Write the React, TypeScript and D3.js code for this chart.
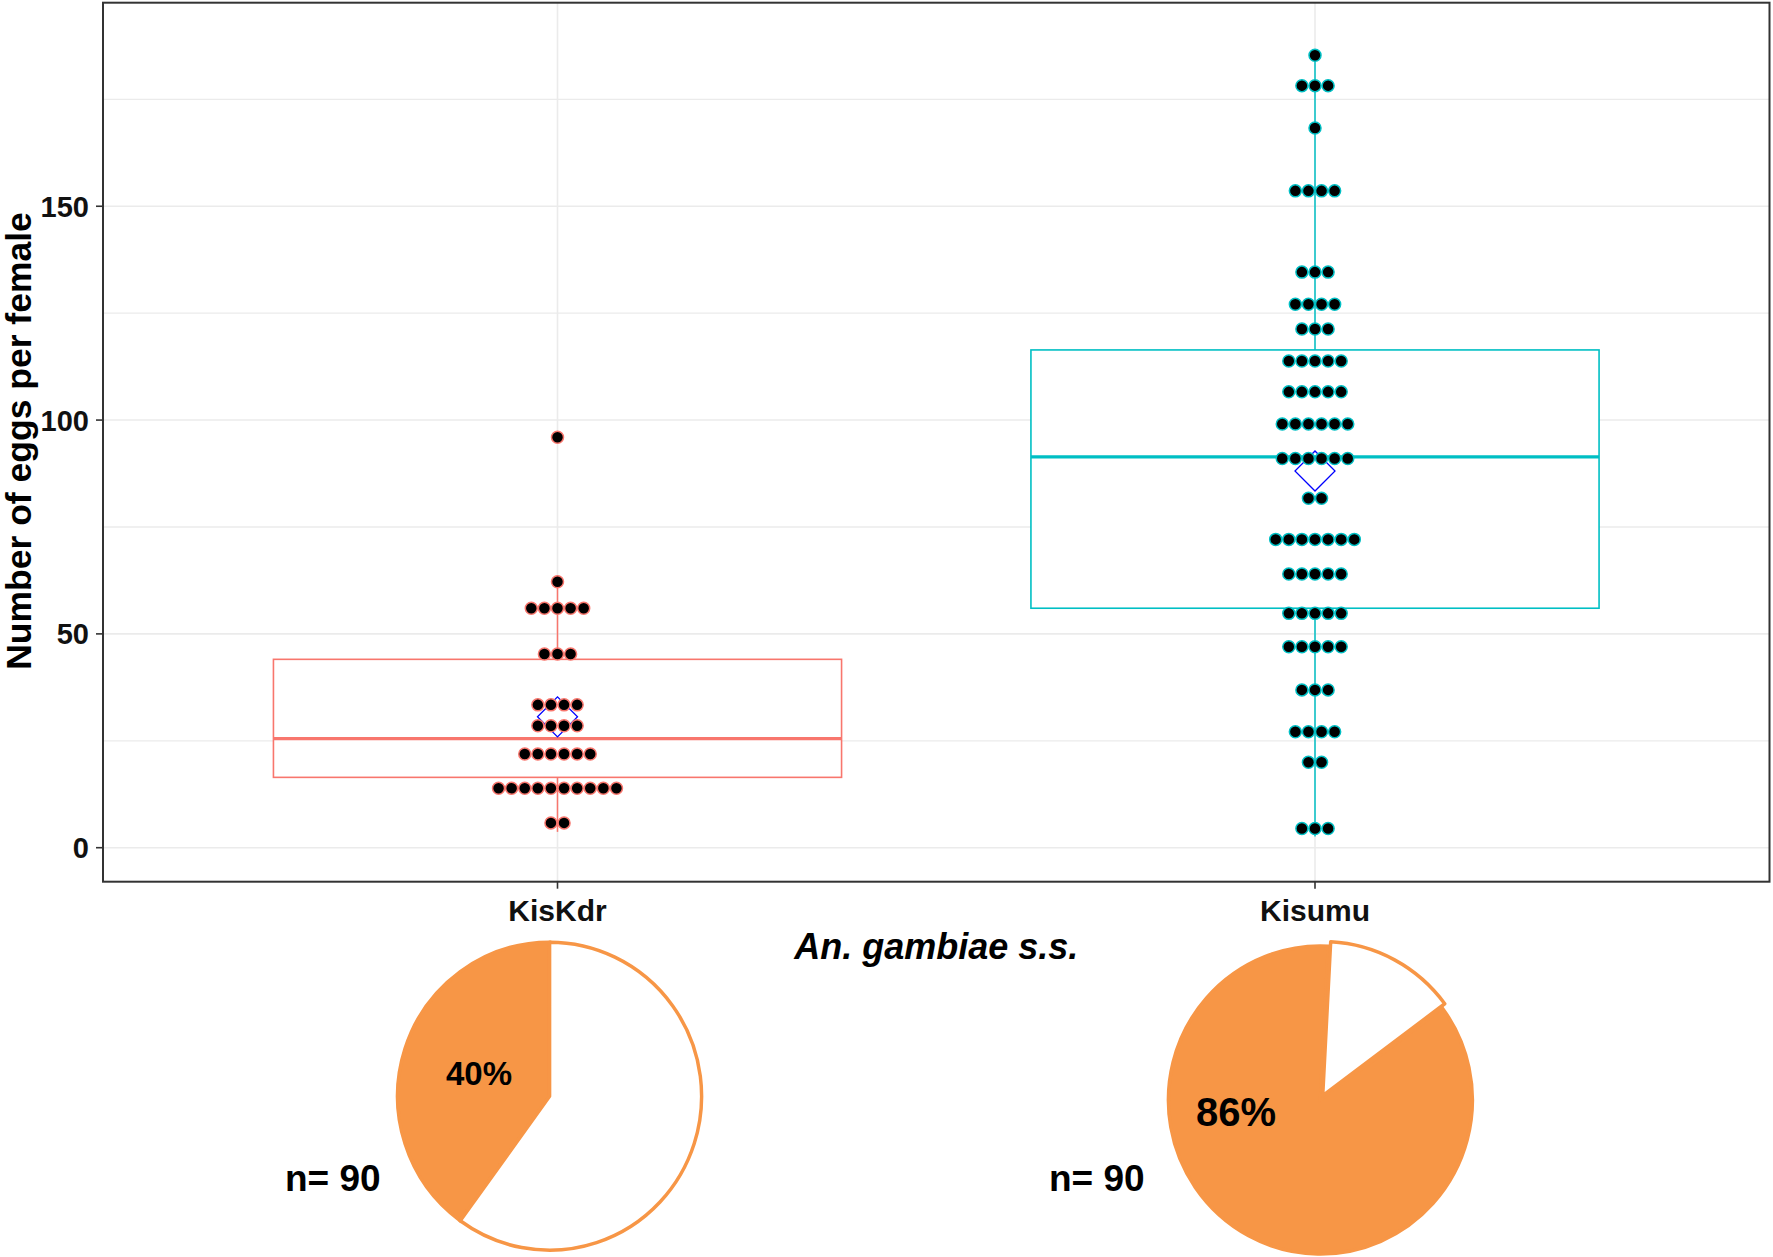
import React from 'react';
import * as d3 from 'd3';

// ---------- data ----------
const categories = ['KisKdr', 'Kisumu'];
const groupColors = ['#F8766D', '#00BFC4'];
const yMajorTicks = [0, 50, 100, 150];
const yMinorTicks = [25, 75, 125, 175];

// dot-plot bins (bin centre value) and number of dots stacked in each bin
const kisKdrBins = [96.0, 62.2, 56.0, 45.3, 33.4, 28.5, 21.9, 13.9, 5.8];
const kisKdrCounts = [1, 1, 5, 3, 4, 4, 6, 10, 2];
const kisumuBins = [185.3, 178.2, 168.3, 153.6, 134.6, 127.1, 121.3, 113.8, 106.6, 99.1, 91.0, 81.7, 72.1, 64.0, 54.8, 47.0, 36.9, 27.1, 20.0, 4.5];
const kisumuCounts = [1, 3, 1, 4, 3, 4, 3, 5, 5, 6, 6, 2, 7, 5, 5, 5, 3, 4, 2, 3];

// boxplot statistics per category
const boxQ1 = [16.45, 56.0];
const boxMedian = [25.5, 91.4];
const boxQ3 = [44.05, 116.4];
const whiskerLow = [3.7, 2.6];
const whiskerHigh = [62.2, 185.3];
const groupMeans = [30.6, 88.1];

// pies: % of females laying eggs
const layingPercent = [40, 86];
const pieLabels = ['40%', '86%'];
const sampleSizes = [90, 90];

const xTitle = 'An. gambiae s.s.';
const yTitle = 'Number of eggs per female';

const ORANGE = '#F79646';
const FONT = "'Liberation Sans', Arial, Helvetica, sans-serif";

export default function App() {
  const W = 1773;
  const H = 1257;
  const panel = { left: 103, right: 1769.5, top: 2.7, bottom: 881.7 };

  const y = d3.scaleLinear().domain([-7.95, 197.6]).range([panel.bottom, panel.top]);
  const x = d3
    .scaleBand<string>()
    .domain(categories)
    .range([panel.left, panel.right])
    .paddingInner(0)
    .paddingOuter(0.1);
  const cx = (c: string) => (x(c) as number) + x.bandwidth() / 2;
  const boxW = x.bandwidth() * 0.75;
  const dotStep = 13.1;

  const binsByGroup = [kisKdrBins, kisumuBins];
  const countsByGroup = [kisKdrCounts, kisumuCounts];

  const diamond = d3.symbol().type(d3.symbolSquare).size(800)();

  const arc = d3.arc<d3.PieArcDatum<number>>().innerRadius(0).outerRadius(154);
  const pieCenters = [
    { x: 549.6, y: 1096.2, explode: 0, rot: 0 },
    { x: 1320.4, y: 1100, explode: 5, rot: 3 },
  ];
  const pieLabelPos = [
    { x: 479, y: 1085, size: 33 },
    { x: 1236, y: 1126, size: 40 },
  ];
  const nLabelPos = [
    { x: 285, y: 1191 },
    { x: 1049, y: 1191 },
  ];

  return (
    <svg
      width={W}
      height={H}
      viewBox={`0 0 ${W} ${H}`}
      style={{ position: 'absolute', left: 0, top: 0, display: 'block', background: '#fff' }}
    >
      <rect x={0} y={0} width={W} height={H} fill="#fff" />

      {/* grid */}
      <g>
        {yMinorTicks.map((t) => (
          <line key={'mi' + t} x1={panel.left} x2={panel.right} y1={y(t)} y2={y(t)} stroke="#EBEBEB" strokeWidth={1.3} />
        ))}
        {yMajorTicks.map((t) => (
          <line key={'ma' + t} x1={panel.left} x2={panel.right} y1={y(t)} y2={y(t)} stroke="#EBEBEB" strokeWidth={1.6} />
        ))}
        {categories.map((c) => (
          <line key={'vx' + c} x1={cx(c)} x2={cx(c)} y1={panel.top} y2={panel.bottom} stroke="#EBEBEB" strokeWidth={1.6} />
        ))}
      </g>

      {/* boxplots */}
      {categories.map((c, i) => {
        const col = groupColors[i];
        const xc = cx(c);
        return (
          <g key={'box' + c}>
            <line x1={xc} x2={xc} y1={y(boxQ3[i])} y2={y(whiskerHigh[i])} stroke={col} strokeWidth={1.5} />
            <line x1={xc} x2={xc} y1={y(boxQ1[i])} y2={y(whiskerLow[i])} stroke={col} strokeWidth={1.5} />
            <rect
              x={xc - boxW / 2}
              y={y(boxQ3[i])}
              width={boxW}
              height={y(boxQ1[i]) - y(boxQ3[i])}
              fill="#fff"
              stroke={col}
              strokeWidth={1.6}
            />
            <line x1={xc - boxW / 2} x2={xc + boxW / 2} y1={y(boxMedian[i])} y2={y(boxMedian[i])} stroke={col} strokeWidth={3.4} />
          </g>
        );
      })}

      {/* means */}
      {categories.map((c, i) => (
        <path
          key={'mean' + c}
          d={diamond as string}
          transform={`translate(${cx(c)},${y(groupMeans[i])}) rotate(45)`}
          fill="none"
          stroke="#0000FF"
          strokeWidth={1.3}
        />
      ))}

      {/* dots */}
      {categories.map((c, i) => {
        const col = groupColors[i];
        const xc = cx(c);
        const bins = binsByGroup[i];
        const counts = countsByGroup[i];
        return (
          <g key={'dots' + c}>
            {bins.map((b, j) =>
              d3.range(counts[j]).map((k) => (
                <circle
                  key={`${j}-${k}`}
                  cx={xc + (k - (counts[j] - 1) / 2) * dotStep}
                  cy={y(b)}
                  r={6.0}
                  fill="#000"
                  stroke={col}
                  strokeWidth={1.5}
                />
              ))
            )}
          </g>
        );
      })}

      {/* panel border */}
      <rect
        x={panel.left}
        y={panel.top}
        width={panel.right - panel.left}
        height={panel.bottom - panel.top}
        fill="none"
        stroke="#333"
        strokeWidth={2}
      />

      {/* y axis ticks and labels */}
      {yMajorTicks.map((t) => (
        <g key={'yt' + t}>
          <line x1={panel.left - 7} x2={panel.left} y1={y(t)} y2={y(t)} stroke="#333" strokeWidth={1.6} />
          <text
            x={89}
            y={y(t)}
            dy="0.36em"
            textAnchor="end"
            fontFamily={FONT}
            fontWeight="bold"
            fontSize={29}
            fill="#111"
          >
            {t}
          </text>
        </g>
      ))}

      {/* x axis ticks and labels */}
      {categories.map((c) => (
        <g key={'xt' + c}>
          <line x1={cx(c)} x2={cx(c)} y1={panel.bottom} y2={panel.bottom + 7} stroke="#333" strokeWidth={1.6} />
          <text x={cx(c)} y={921} textAnchor="middle" fontFamily={FONT} fontWeight="bold" fontSize={30} fill="#111">
            {c}
          </text>
        </g>
      ))}

      {/* axis titles */}
      <text
        x={(panel.left + panel.right) / 2}
        y={959}
        textAnchor="middle"
        fontFamily={FONT}
        fontWeight="bold"
        fontStyle="italic"
        fontSize={36}
        fill="#000"
      >
        {xTitle}
      </text>
      <text
        transform={`translate(31, 441) rotate(-90)`}
        textAnchor="middle"
        fontFamily={FONT}
        fontWeight="bold"
        fontSize={35.5}
        fill="#000"
      >
        {yTitle}
      </text>

      {/* pies */}
      {categories.map((c, i) => {
        const pc = pieCenters[i];
        const start = (pc.rot * Math.PI) / 180;
        const pie = d3
          .pie<number>()
          .sort(null)
          .startAngle(start)
          .endAngle(start + 2 * Math.PI);
        const arcs = pie([100 - layingPercent[i], layingPercent[i]]);
        const a = arcs[0];
        const mid = (a.startAngle + a.endAngle) / 2;
        const dx = Math.sin(mid) * pc.explode;
        const dy = -Math.cos(mid) * pc.explode;
        return (
          <g key={'pie' + c} transform={`translate(${pc.x},${pc.y}) scale(0.987,1)`}>
            <path d={arc(arcs[1]) as string} fill={ORANGE} stroke={ORANGE} strokeWidth={3.5} />
            <path
              d={arc(a) as string}
              transform={`translate(${dx},${dy})`}
              fill="#fff"
              stroke={ORANGE}
              strokeWidth={3.5}
              strokeLinejoin="round"
            />
          </g>
        );
      })}

      {/* pie labels */}
      {pieLabels.map((l, i) => (
        <text
          key={'pl' + i}
          x={pieLabelPos[i].x}
          y={pieLabelPos[i].y}
          textAnchor="middle"
          fontFamily={FONT}
          fontWeight="bold"
          fontSize={pieLabelPos[i].size}
          fill="#000"
        >
          {l}
        </text>
      ))}
      {sampleSizes.map((n, i) => (
        <text
          key={'n' + i}
          x={nLabelPos[i].x}
          y={nLabelPos[i].y}
          textAnchor="start"
          fontFamily={FONT}
          fontWeight="bold"
          fontSize={37}
          fill="#000"
        >
          {`n= ${n}`}
        </text>
      ))}
    </svg>
  );
}
